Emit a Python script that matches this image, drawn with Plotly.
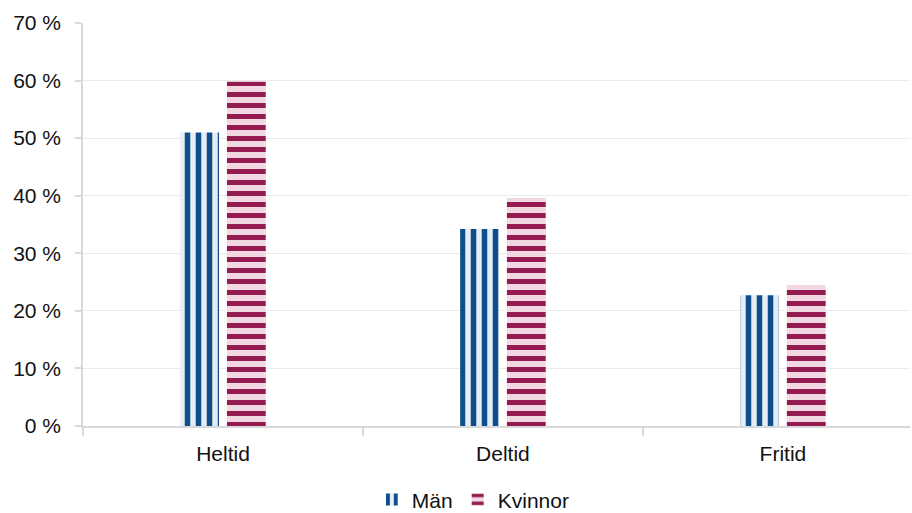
import plotly.graph_objects as go

categories = ["Heltid", "Deltid", "Fritid"]
man = [51.0, 34.2, 22.7]
kvinnor = [59.8, 39.6, 24.5]
y_ticks = [0, 10, 20, 30, 40, 50, 60, 70]
y_tick_labels = [f"{v} %" for v in y_ticks]

font = "Liberation Sans, Arial, sans-serif"

fig = go.Figure()
fig.add_trace(go.Bar(
    name="Män", x=categories, y=man,
    marker=dict(color="#e6edf5", line=dict(width=0),
                pattern=dict(shape="|", fgcolor="#0d4e8b", bgcolor="#e6edf5",
                             size=11, solidity=0.5, fillmode="replace")),
))
fig.add_trace(go.Bar(
    name="Kvinnor", x=categories, y=kvinnor,
    marker=dict(color="#f1d8e2", line=dict(width=0),
                pattern=dict(shape="-", fgcolor="#931b4f", bgcolor="#f1d8e2",
                             size=11, solidity=0.45, fillmode="replace")),
))

fig.update_layout(
    template="none",
    width=912, height=513,
    margin=dict(l=83, r=2, t=23, b=87, autoexpand=False),
    paper_bgcolor="white", plot_bgcolor="white",
    barmode="group", bargap=0.666, bargroupgap=0.17,
    font=dict(family=font, size=21, color="#111111"),
    showlegend=True,
    legend=dict(orientation="h", x=0.472, xanchor="center", y=-0.183, yanchor="middle",
                font=dict(size=21), traceorder="normal", itemwidth=30),
)
fig.update_xaxes(
    type="category", range=[-0.5, 2.454], automargin=False,
    showline=True, linecolor="#d9d9d9", linewidth=1.5,
    ticks="outside", tickson="boundaries", ticklen=8, tickcolor="#d9d9d9", tickwidth=1.5,
    showgrid=False, ticklabelstandoff=8,
)
fig.update_yaxes(
    range=[0, 70], tickmode="array", tickvals=y_ticks, ticktext=y_tick_labels,
    automargin=False,
    showline=True, linecolor="#d9d9d9", linewidth=1.5,
    ticks="outside", ticklen=6, tickcolor="#d9d9d9", tickwidth=1.5,
    showgrid=True, gridcolor="#ebebeb", gridwidth=1, zeroline=False,
    ticklabelstandoff=10,
)

fig.write_html(
    "out.html",
    config={"displayModeBar": False},
    post_script="document.body.style.margin='0';document.body.style.overflow='hidden';",
)
